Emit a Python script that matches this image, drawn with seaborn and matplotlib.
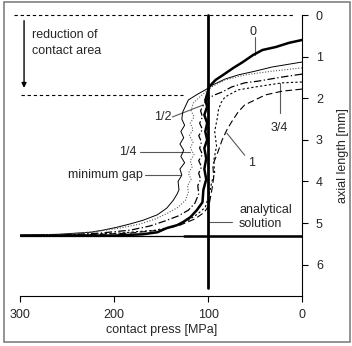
import matplotlib
matplotlib.use('Agg')
import matplotlib.pyplot as plt
import numpy as np
import pandas as pd
import seaborn as sns
from matplotlib.patches import Rectangle

# curve data: contact pressure [MPa] vs axial length [mm]
press_0 = [0, 14, 28, 42, 52, 63, 73, 84, 92, 95, 99, 101, 103, 101, 104, 101, 103, 101, 104, 102,
           104, 102, 105, 106, 112, 119, 127, 133, 144, 154, 170, 200, 250, 300]
length_0 = [0.60, 0.67, 0.77, 0.84, 0.96, 1.13, 1.27, 1.44, 1.56, 1.63, 1.73, 1.90, 2.05, 2.20, 2.40,
            2.60, 2.80, 3.00, 3.20, 3.45, 3.70, 3.95, 4.20, 4.50, 4.69, 4.86, 4.98, 5.05, 5.12, 5.22,
            5.27, 5.30, 5.30, 5.30]

press_gap = [0, 32, 50, 68, 82, 95, 103, 111, 121, 127, 128, 125, 129, 126, 130, 126, 129, 125, 130,
             128, 132, 131, 133, 137, 144, 154, 169, 183, 197, 212, 225, 260, 300]
length_gap = [1.13, 1.25, 1.35, 1.44, 1.54, 1.68, 1.80, 1.90, 2.04, 2.33, 2.50, 2.65, 2.80, 2.95,
              3.10, 3.25, 3.40, 3.55, 3.70, 3.85, 4.00, 4.20, 4.30, 4.45, 4.64, 4.80, 4.93, 5.02,
              5.10, 5.17, 5.22, 5.27, 5.29]

press_q1 = [0, 32, 61, 82, 95, 100, 108, 116, 118, 115, 119, 116, 120, 116, 119, 115, 119, 117, 121,
            118, 122, 121, 124, 132, 143, 156, 172, 194, 215, 247, 300]
length_q1 = [1.27, 1.35, 1.44, 1.56, 1.71, 1.80, 1.95, 2.12, 2.30, 2.45, 2.60, 2.75, 2.90, 3.05,
             3.20, 3.35, 3.50, 3.65, 3.80, 3.95, 4.10, 4.25, 4.45, 4.62, 4.76, 4.90, 5.02, 5.12,
             5.19, 5.26, 5.30]

press_q2 = [0, 21, 47, 61, 75, 85, 93, 100, 105, 108, 106, 109, 106, 110, 107, 109, 106, 110, 107,
            110, 108, 111, 110, 114, 121, 132, 146, 162, 183, 215, 257, 300]
length_q2 = [1.42, 1.49, 1.59, 1.63, 1.73, 1.85, 1.92, 2.00, 2.16, 2.30, 2.45, 2.60, 2.75, 2.90,
             3.05, 3.20, 3.35, 3.50, 3.65, 3.80, 3.95, 4.10, 4.30, 4.52, 4.69, 4.83, 4.95, 5.07,
             5.17, 5.24, 5.29, 5.30]

press_q3 = [0, 21, 50, 68, 82, 86, 89, 90, 93, 91, 94, 93, 96, 99, 103, 111, 121, 135, 156, 194,
            257, 300]
length_q3 = [1.61, 1.63, 1.73, 1.80, 1.97, 2.10, 2.28, 2.45, 2.80, 3.15, 3.50, 3.80, 4.00, 4.33,
             4.62, 4.78, 4.93, 5.07, 5.17, 5.24, 5.29, 5.30]

press_q4 = [0, 21, 39, 50, 61, 68, 75, 80, 85, 90, 95, 94, 96, 99, 104, 114, 130, 151, 183, 236, 300]
length_q4 = [1.78, 1.83, 1.92, 2.04, 2.16, 2.33, 2.57, 2.76, 3.00, 3.32, 3.60, 3.90, 4.20, 4.57,
             4.74, 4.90, 5.05, 5.17, 5.24, 5.29, 5.30]

# analytical solution
analytic_press = 100
analytic_top, analytic_bottom = 0.0, 6.55
base_length = 5.3

curves = [
    ('0', press_0, length_0, '-', 1.8, 'black'),
    ('minimum gap', press_gap, length_gap, '-', 0.7, 'black'),
    ('1/4', press_q1, length_q1, (0, (1, 1.5)), 0.8, '0.35'),
    ('1/2', press_q2, length_q2, (0, (6, 2, 1, 2)), 0.9, 'black'),
    ('3/4', press_q3, length_q3, (0, (2, 2)), 0.8, 'black'),
    ('1', press_q4, length_q4, (0, (6, 3)), 0.8, 'black'),
]

sns.set_style('white')
plt.rcParams['font.family'] = ['Liberation Sans', 'DejaVu Sans']
plt.rcParams['font.size'] = 9

fig = plt.figure(figsize=(3.52, 3.46), dpi=100)
ax = fig.add_axes([20.3 / 352, 1 - 295.5 / 346, 281.7 / 352, 280.5 / 346])

for name, p, l, ls, lw, col in curves:
    df = pd.DataFrame({'press': p, 'length': l})
    sns.lineplot(data=df, x='press', y='length', sort=False, estimator=None,
                 color=col, lw=lw, linestyle=ls, ax=ax, zorder=3)

# analytical solution: vertical at 100 MPa and the base line
ax.plot([analytic_press, analytic_press], [analytic_top, analytic_bottom], color='black', lw=2.0,
        zorder=4, clip_on=False)
ax.plot([300, 0], [base_length, base_length], color='black', lw=0.9, zorder=4)
ax.plot([126, 0], [base_length, base_length], color='black', lw=1.8, zorder=4)

# reduction of contact area markers
ax.plot([307, 7], [0, 0], color='black', lw=0.8, linestyle=(0, (3, 2.5)), clip_on=False)
ax.plot([299, 127], [1.92, 1.92], color='black', lw=0.8, linestyle=(0, (3, 2.5)))
ax.annotate('', xy=(296, 1.82), xytext=(296, 0.07),
            arrowprops=dict(arrowstyle='-|>', color='black', lw=1.0, mutation_scale=7))
ax.text(288, 0.67, 'reduction of\ncontact area', ha='left', va='center', linespacing=1.4)

# curve labels with leader lines
lead = dict(color='0.35', lw=0.8)
ax.text(52, 0.41, '0', ha='center', va='center')
ax.plot([50, 50], [0.53, 0.96], **lead)
ax.text(148, 2.45, '1/2', ha='center', va='center')
ax.plot([138, 105], [2.45, 2.16], **lead)
ax.text(185, 3.29, '1/4', ha='center', va='center')
ax.plot([172, 119], [3.29, 3.29], **lead)
ax.text(169, 3.85, 'minimum gap', ha='right', va='center')
ax.plot([167, 130], [3.85, 3.85], **lead)
ax.text(24.5, 2.72, '3/4', ha='center', va='center')
ax.plot([23.4, 23.4], [2.35, 1.63], **lead)
ax.text(54, 3.56, '1', ha='center', va='center')
ax.plot([61, 80], [3.37, 2.84], **lead)
ax.text(67, 4.86, 'analytical\nsolution', ha='left', va='center', linespacing=1.25)
ax.plot([100, 75], [4.98, 4.98], **lead)

ax.set_xlim(300, 0)
ax.set_ylim(6.74, 0)
ax.set_xticks([300, 200, 100, 0])
ax.set_yticks([0, 1, 2, 3, 4, 5, 6])
ax.yaxis.tick_right()
ax.yaxis.set_label_position('right')
ax.set_xlabel('contact press [MPa]', labelpad=2)
ax.set_ylabel('axial length [mm]', labelpad=10)
for s in ['top', 'left']:
    ax.spines[s].set_visible(False)
for s in ['bottom', 'right']:
    ax.spines[s].set_color('black')
    ax.spines[s].set_linewidth(0.8)
ax.tick_params(axis='both', which='major', length=4, width=0.8, color='black', labelsize=9,
               bottom=True, right=True, left=False, direction='out', pad=6)

fig.patches.append(Rectangle((4 / 352, 4 / 346), 346 / 352, 340 / 346, transform=fig.transFigure,
                             fill=False, edgecolor='0.5', lw=1.2))

fig.savefig('out.png', dpi=100)
